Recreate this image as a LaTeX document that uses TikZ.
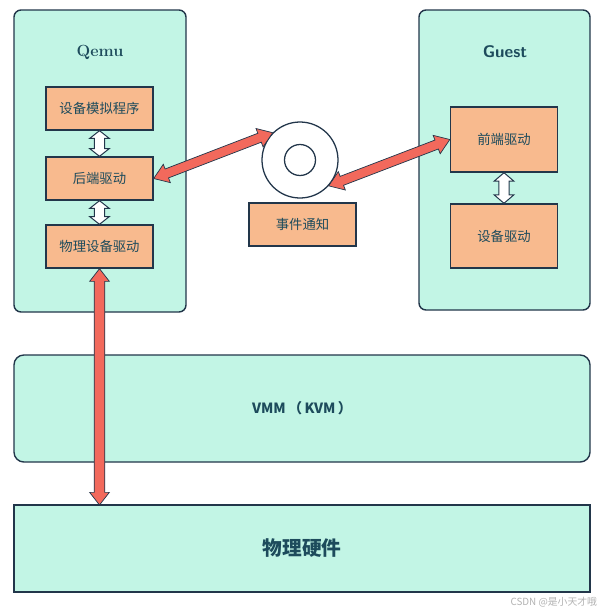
\documentclass[tikz,border=0pt]{standalone}
\usepackage{fontspec}
\newfontfamily\cjk{Noto Sans CJK SC}
\usepackage{tikz}
\usetikzlibrary{calc,positioning}

\definecolor{mint}{HTML}{C2F5E5}
\definecolor{peach}{HTML}{F8BA8E}
\definecolor{coral}{HTML}{F2695C}
\definecolor{ink}{HTML}{22364A}
\definecolor{labelink}{HTML}{1D4B5C}

\tikzset{
  layer/.style={draw=ink, line width=1pt, fill=mint},
  part/.style={draw=ink, line width=1pt, fill=peach, minimum width=107*0.025cm,
    font=\cjk\fontsize{9.5}{11}\selectfont, text=labelink},
  title/.style={font=\cjk\bfseries\fontsize{10}{12}\selectfont, text=labelink},
  redarrow/.style={draw=ink, line width=0.5pt, fill=coral},
  whitearrow/.style={draw=ink, line width=0.7pt, fill=white}
}

% double-headed fat arrow: #1 style, #2 head length, #3 head half width,
% #4 shaft half width, #5 start, #6 end
\newcommand{\dblarrow}[6]{%
  \filldraw[#1] (#5)
    -- ($(#5)!#2!(#6)!#3!90:(#6)$)
    -- ($(#5)!#2!(#6)!#4!90:(#6)$)
    -- ($(#6)!#2!(#5)!#4!-90:(#5)$)
    -- ($(#6)!#2!(#5)!#3!-90:(#5)$)
    -- (#6)
    -- ($(#6)!#2!(#5)!#3!90:(#5)$)
    -- ($(#6)!#2!(#5)!#4!90:(#5)$)
    -- ($(#5)!#2!(#6)!#4!-90:(#6)$)
    -- ($(#5)!#2!(#6)!#3!-90:(#6)$)
    -- cycle;}

\begin{document}
\begin{tikzpicture}[x=0.025cm, y=-0.025cm]
    \useasboundingbox[fill=white] (0,0) rectangle (610,614);

    % host and guest
    \draw[layer, rounded corners=5pt] (14,10) rectangle (186,312);
    \draw[layer, rounded corners=5pt] (419,10) rectangle (590,310);
    \node[title, font=\bfseries\fontsize{11.5}{13}\selectfont] (qemu) at (100,52) {Qemu};
    \node[title, font=\sffamily\bfseries\fontsize{12}{14}\selectfont] (guest) at (505,52) {Guest};

    % lower layers
    \draw[layer, rounded corners=7pt] (14,355) rectangle (590,462);
    \draw[layer] (14,505) rectangle (590,592);
    \node[title] (vmm) at (302,408) {VMM\,（\,KVM\,）};
    \node[title, font=\cjk\bfseries\fontsize{14}{16}\selectfont] (hw) at (302,548) {物理硬件};
    \coordinate (hwtop) at (302,505);

    % qemu parts
    \node[part, minimum height=43*0.025cm] (emu) at (99.5,108.5) {设备模拟程序};
    \node[part, minimum height=43*0.025cm] (back) at (99.5,178.5) {后端驱动};
    \node[part, minimum height=43*0.025cm] (physdrv) at (99.5,246.5) {物理设备驱动};

    % guest parts
    \node[part, minimum height=65*0.025cm] (front) at (504,139.5) {前端驱动};
    \node[part, minimum height=64*0.025cm] (devdrv) at (504,236) {设备驱动};

    % event ring
    \node[draw=ink, line width=0.9pt, fill=white, circle, minimum size=76*0.025cm] (ring) at (300,160) {};
    \node[draw=ink, line width=0.9pt, circle, minimum size=31*0.025cm] at (ring) {};
    \node[part, minimum height=43*0.025cm] (event) at (302.5,224.5) {事件通知};

    % connectors
    \dblarrow{whitearrow}{5.5pt}{7pt}{3.6pt}{emu.south}{back.north}
    \dblarrow{whitearrow}{5.5pt}{7pt}{3.6pt}{back.south}{physdrv.south |- physdrv.north}
    \dblarrow{whitearrow}{6pt}{7pt}{3.6pt}{front.south}{devdrv.north}
    \dblarrow{redarrow}{10pt}{7pt}{3.4pt}{back.east}{ring.135}
    \dblarrow{redarrow}{10pt}{7pt}{3.4pt}{ring.-42}{front.west}
    \dblarrow{redarrow}{9pt}{7pt}{3.8pt}{physdrv.south}{physdrv.south |- hwtop}

    % watermark
    \node[font=\cjk\fontsize{7}{8}\selectfont, text=gray!60, anchor=east] (mark) at (602,602) {CSDN @是小天才哦};
\end{tikzpicture}
\end{document}
